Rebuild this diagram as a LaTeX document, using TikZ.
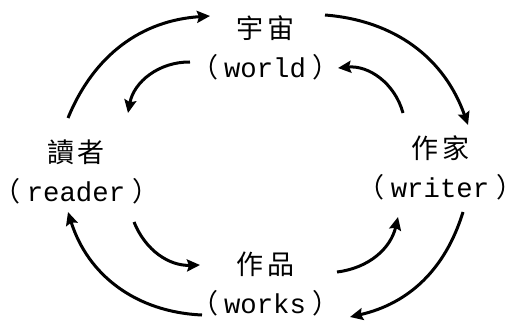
\documentclass[tikz,border=0pt]{standalone}
\usepackage{fontspec}
\newfontfamily\cjk{Noto Sans CJK TC}
\newfontfamily\lat{Liberation Mono}
\usetikzlibrary{arrows.meta}
\begin{document}
\begin{tikzpicture}[x=1pt,y=1pt,
  lbl/.style={align=center,inner sep=0pt,font=\fontsize{27}{39}\selectfont},
  arr/.style={line width=3pt,-{Stealth[length=13pt,width=12pt,inset=2pt]}}]
\useasboundingbox (0,0) rectangle (510,324);
\newcommand{\zh}[1]{{\cjk #1}}
\newcommand{\lp}{\makebox[17pt][r]{\cjk （\hspace{6pt}}}
\newcommand{\rp}{\makebox[17pt][l]{\hspace{7pt}\cjk ）}}
\newcommand{\en}[1]{{\lat\fontsize{27.3}{39}\selectfont #1}}
\node[lbl] (world) at (265,276) {\zh{宇\hspace{4pt}宙}\\\lp\en{world}\rp};
\node[lbl] (reader) at (76,152) {\zh{讀\hspace{4pt}者}\\\lp\en{reader}\rp};
\node[lbl] (writer) at (440,156) {\zh{作\hspace{4pt}家}\\\lp\en{writer}\rp};
\node[lbl] (works) at (265,39.5) {\zh{作\hspace{4pt}品}\\\lp\en{works}\rp};
% outer endpoints
\coordinate (a1s) at (68,206);  \coordinate (a1e) at (210,308);
\coordinate (a2s) at (325,309); \coordinate (a2e) at (468,199);
\coordinate (a3s) at (463,112); \coordinate (a3e) at (350,7);
\coordinate (a4s) at (202,9);   \coordinate (a4e) at (68,112);
% inner endpoints
\coordinate (b1s) at (190,262); \coordinate (b1e) at (128,211);
\coordinate (b2s) at (403,211); \coordinate (b2e) at (338,256);
\coordinate (b3s) at (337,52);  \coordinate (b3e) at (398,107);
\coordinate (b4s) at (134,102); \coordinate (b4e) at (200,59);
\draw[arr] (a1s) to[bend left=32] (a1e);
\draw[arr] (a2s) to[bend left=33] (a2e);
\draw[arr] (a3s) to[bend left=30] (a3e);
\draw[arr] (a4s) to[bend left=35] (a4e);
\draw[arr] (b1s) to[bend right=40] (b1e);
\draw[arr] (b2s) to[bend right=40] (b2e);
\draw[arr] (b3s) to[bend right=35] (b3e);
\draw[arr] (b4s) to[bend right=35] (b4e);
\end{tikzpicture}
\end{document}
